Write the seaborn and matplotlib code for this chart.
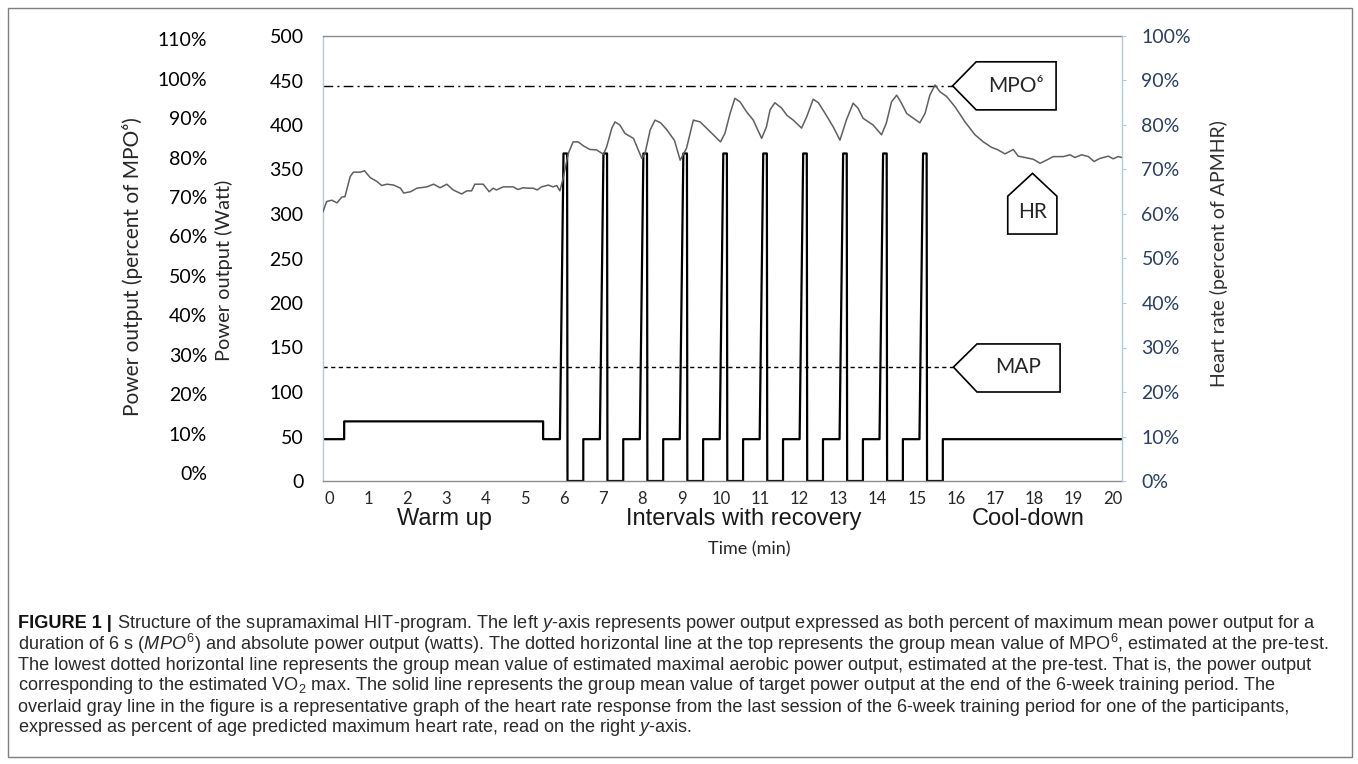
import numpy as np
import matplotlib
matplotlib.use("Agg")
import matplotlib.pyplot as plt
from matplotlib import font_manager
from matplotlib.patches import Polygon, Rectangle
from matplotlib.ticker import FuncFormatter
import seaborn as sns

# heart rate trace (time in min, percent of APMHR)
hr_time = [0.0, 0.09, 0.22, 0.35, 0.47, 0.55, 0.68, 0.76, 0.93, 1.04, 1.18, 1.35, 1.47, 1.6,
           1.77, 1.94, 2.02, 2.19, 2.35, 2.6, 2.77, 2.93, 3.1, 3.26, 3.47, 3.6, 3.72, 3.8,
           4.01, 4.16, 4.26, 4.34, 4.51, 4.76, 4.88, 5.01, 5.13, 5.26, 5.36, 5.47, 5.64,
           5.76, 5.85, 5.93, 6.01, 6.14, 6.26, 6.39, 6.52, 6.68, 6.85, 7.02, 7.1, 7.23,
           7.31, 7.43, 7.56, 7.77, 7.98, 8.06, 8.19, 8.31, 8.45, 8.6, 8.8, 8.94, 9.1,
           9.27, 9.44, 9.6, 9.77, 9.95, 10.06, 10.19, 10.31, 10.44, 10.6, 10.77, 10.98,
           11.1, 11.19, 11.31, 11.48, 11.61, 11.77, 11.98, 12.11, 12.27, 12.4, 12.57,
           12.77, 12.94, 13.1, 13.27, 13.39, 13.52, 13.77, 13.98, 14.1, 14.23, 14.36,
           14.48, 14.61, 14.78, 14.94, 15.07, 15.19, 15.32, 15.44, 15.61, 15.82, 16.07,
           16.32, 16.53, 16.73, 16.9, 17.07, 17.28, 17.4, 17.57, 17.78, 17.95, 18.11,
           18.28, 18.53, 18.7, 18.82, 18.99, 19.16, 19.3, 19.45, 19.66, 19.78, 19.9, 20.0]
hr_pct = [60.5, 62.8, 63.1, 62.5, 63.8, 63.9, 68.4, 69.4, 69.4, 69.7, 68.2, 67.3, 66.4, 66.7,
          66.5, 65.8, 64.7, 65.0, 65.8, 66.1, 66.7, 65.9, 66.7, 65.4, 64.5, 65.2, 65.2, 66.7,
          66.7, 65.0, 65.8, 65.4, 66.1, 66.1, 65.5, 65.9, 65.8, 65.8, 65.4, 66.1, 66.5,
          66.1, 66.4, 65.2, 68.0, 73.6, 76.2, 76.2, 75.3, 74.5, 74.4, 73.4, 75.1, 79.3,
          80.7, 80.0, 78.1, 77.0, 72.5, 73.6, 78.9, 81.1, 80.5, 79.0, 76.5, 72.1, 74.8,
          81.1, 80.7, 79.3, 77.8, 76.2, 78.1, 82.6, 86.0, 85.2, 83.0, 81.1, 77.0,
          79.6, 83.4, 85.0, 83.8, 82.2, 81.1, 79.3, 81.9, 85.8, 85.0, 82.6,
          79.6, 76.6, 81.1, 84.9, 83.8, 81.5, 80.0, 77.8, 80.4, 85.2, 86.7,
          84.9, 82.6, 81.5, 80.5, 82.6, 86.7, 89.0, 87.5, 86.4, 84.1, 80.7,
          77.8, 76.2, 75.0, 74.4, 73.5, 74.5, 73.0, 72.7, 72.3, 71.4, 72.1,
          72.9, 72.9, 73.3, 72.7, 73.3, 72.9, 71.8, 72.5, 73.0, 72.4, 72.9, 72.7]

# target power profile (watt)
warmup_time = [0.0, 0.53, 0.53, 5.51, 5.51]
warmup_watt = [47, 47, 67, 67, 47]
interval_start = [6, 7, 8, 9, 10, 11, 12, 13, 14, 15]
interval_offset = [-0.07, 0.02, 0.11, 0.12, 0.515, 0.515]  # rise, peak, peak end, drop, rest, rest
peak_watt = 368
rest_watt = 47
end_time = 20

mpo6_watt = 444
map_watt = 128
ref_line_end = 15.76

x_labels = [str(k) for k in range(21)]
phases = ["Warm up", "Intervals with recovery", "Cool-down"]
phase_x = [3.03, 10.54, 17.65]

caption = [
    r" Structure of the supramaximal HIT-program. The left $\mathit{y}$-axis represents power output expressed as both percent of maximum mean power output for a",
    r"duration of 6 s ($\mathit{MPO}^{6}$) and absolute power output (watts). The dotted horizontal line at the top represents the group mean value of MPO$^{6}$, estimated at the pre-test.",
    r"The lowest dotted horizontal line represents the group mean value of estimated maximal aerobic power output, estimated at the pre-test. That is, the power output",
    r"corresponding to the estimated VO$_{2}$ max. The solid line represents the group mean value of target power output at the end of the 6-week training period. The",
    r"overlaid gray line in the figure is a representative graph of the heart rate response from the last session of the 6-week training period for one of the participants,",
    r"expressed as percent of age predicted maximum heart rate, read on the right $\mathit{y}$-axis.",
]

# build the step profile from the interval table
power_time = list(warmup_time)
power_watt = list(warmup_watt)
for s in interval_start:
    power_time += [s + o for o in interval_offset]
    power_watt += [rest_watt, peak_watt, peak_watt, 0, 0, rest_watt]
power_time.append(end_time)
power_watt.append(rest_watt)

sns.set_theme(style="white")
installed = {f.name for f in font_manager.fontManager.ttflist}
chart_font = "Lato" if "Lato" in installed else "DejaVu Sans"
cap_font = "Liberation Sans Narrow" if "Liberation Sans Narrow" in installed else "Liberation Sans"
plt.rcParams["font.family"] = [chart_font, "DejaVu Sans"]
plt.rcParams["mathtext.fontset"] = "custom"
plt.rcParams["mathtext.rm"] = cap_font
plt.rcParams["mathtext.it"] = cap_font + ":italic"
plt.rcParams["mathtext.bf"] = cap_font + ":bold"

W, H = 1358, 764
fig = plt.figure(figsize=(W / 100, H / 100), dpi=100)
fig.patch.set_facecolor("white")

left, right, top, bottom = 323, 1122, 36, 481
ax = fig.add_axes([left / W, 1 - bottom / H, (right - left) / W, (bottom - top) / H])
ax_pct = ax.twinx()
ax_hr = ax.twinx()

sns.lineplot(x=power_time, y=power_watt, estimator=None, sort=False, color="black",
             linewidth=1.6, ax=ax)
sns.lineplot(x=[0, ref_line_end], y=[mpo6_watt, mpo6_watt], estimator=None, color="black",
             linewidth=1.0, linestyle=(0, (7, 3, 1.5, 3)), ax=ax)
sns.lineplot(x=[0, ref_line_end], y=[map_watt, map_watt], estimator=None, color="black",
             linewidth=1.0, linestyle=(0, (3, 2.5)), ax=ax)
sns.lineplot(x=hr_time, y=hr_pct, estimator=None, sort=False, color="#5f5f5f",
             linewidth=1.1, ax=ax_hr)

ax.set_xlim(0, 20)
ax.set_ylim(0, 500)
ax_hr.set_ylim(0, 100)
ax_pct.set_ylim(-1.95, 110.8)

# left axis (watt)
ax.set_yticks(range(0, 501, 50))
ax.tick_params(axis="y", length=0, pad=14, labelsize=14, labelcolor="black")
ax.set_ylabel("Power output (Watt)", fontsize=14.4)
ax.yaxis.set_label_coords(-0.1126, 0.474)

# left axis (percent of MPO6)
ax_pct.yaxis.tick_left()
ax_pct.yaxis.set_label_position("left")
ax_pct.set_yticks(range(0, 111, 10))
ax_pct.yaxis.set_major_formatter(FuncFormatter(lambda v, p: f"{v:.0f}%"))
ax_pct.tick_params(axis="y", length=0, pad=83.5, labelsize=14, labelcolor="black")
ax_pct.set_ylabel("Power output (percent of MPO\u2076)", fontsize=15)
ax_pct.yaxis.set_label_coords(-0.2253, 0.481)

# right axis (heart rate)
hr_color = "#2b3f63"
ax_hr.set_yticks(range(0, 101, 10))
ax_hr.yaxis.set_major_formatter(FuncFormatter(lambda v, p: f"{v:.0f}%"))
ax_hr.tick_params(axis="y", length=3, width=0.8, color="#b4c7e7", pad=11,
                  labelsize=14, labelcolor=hr_color)
ax_hr.set_ylabel("Heart rate (percent of APMHR)", fontsize=14, color="#303030")
ax_hr.yaxis.set_label_coords(1.11, 0.512)

# x axis
ax.set_xticks(np.linspace(0.15, 19.77, len(x_labels)))
ax.set_xticklabels(x_labels)
ax.tick_params(axis="x", length=0, pad=7, labelsize=12)
ax.set_xlabel("Time (min)", fontsize=13)
ax.xaxis.set_label_coords(0.534, -0.135)
for name, px in zip(phases, phase_x):
    ax.text(px, -0.085, name, transform=ax.get_xaxis_transform(), ha="center",
            va="center", fontsize=17, family=["Liberation Sans", "DejaVu Sans"],
            color="#1a1a1a")

for a in (ax, ax_pct, ax_hr):
    for sp in a.spines.values():
        sp.set_visible(False)
ax.spines["left"].set_visible(True)
ax.spines["left"].set_color("#b4c7e7")
ax.spines["bottom"].set_visible(True)
ax.spines["bottom"].set_color("#8c8c8c")
ax.spines["top"].set_visible(True)
ax.spines["top"].set_color("#8c8c8c")
ax_hr.spines["right"].set_visible(True)
ax_hr.spines["right"].set_color("#b4c7e7")
for a in (ax, ax_pct, ax_hr):
    for sp in a.spines.values():
        sp.set_linewidth(1.0)

# callouts
callouts = [
    ("MPO\u2076", [(15.76, mpo6_watt), (16.35, 471), (18.35, 471), (18.35, 417), (16.35, 417)], (17.35, mpo6_watt)),
    ("MAP", [(15.78, map_watt), (16.37, 154), (18.45, 154), (18.45, 100), (16.37, 100)], (17.41, map_watt)),
    ("HR", [(17.76, 345.7), (18.37, 320), (18.37, 277.5), (17.14, 277.5), (17.14, 320)], (17.76, 302)),
]
for label, pts, pos in callouts:
    ax.add_patch(Polygon(pts, closed=True, facecolor="white", edgecolor="black",
                         linewidth=1.2, zorder=5))
    ax.text(pos[0], pos[1], label, ha="center", va="center", fontsize=15, zorder=6)

# outer frame
fig.add_artist(Rectangle((8 / W, 1 - 757 / H), 1344 / W, 749 / H, transform=fig.transFigure,
                         fill=False, edgecolor="#7f7f7f", linewidth=1.0))

# caption, font size fitted so that the second line ends where it does in the figure
renderer = fig.canvas.get_renderer()
line_y = [623, 644, 665, 686, 707, 728]
cap_x0 = 18
probe = fig.text(0, 0, caption[1], fontsize=10, family=[cap_font, "DejaVu Sans"])
pw = probe.get_window_extent(renderer=renderer).width
probe.remove()
cap_size = 10 * (1333 - cap_x0) / pw

head = fig.text(cap_x0 / W, 1 - line_y[0] / H, "FIGURE 1 |", fontsize=cap_size, weight="bold",
                family=[cap_font, "DejaVu Sans"], va="center", color="#111111")
hb = head.get_window_extent(renderer=renderer)
for i, (txt, y) in enumerate(zip(caption, line_y)):
    x0 = hb.x1 / W if i == 0 else cap_x0 / W
    fig.text(x0, 1 - y / H, txt, fontsize=cap_size, family=[cap_font, "DejaVu Sans"],
             va="center", color="#2a2a2a")

fig.savefig("out.png", dpi=100)
